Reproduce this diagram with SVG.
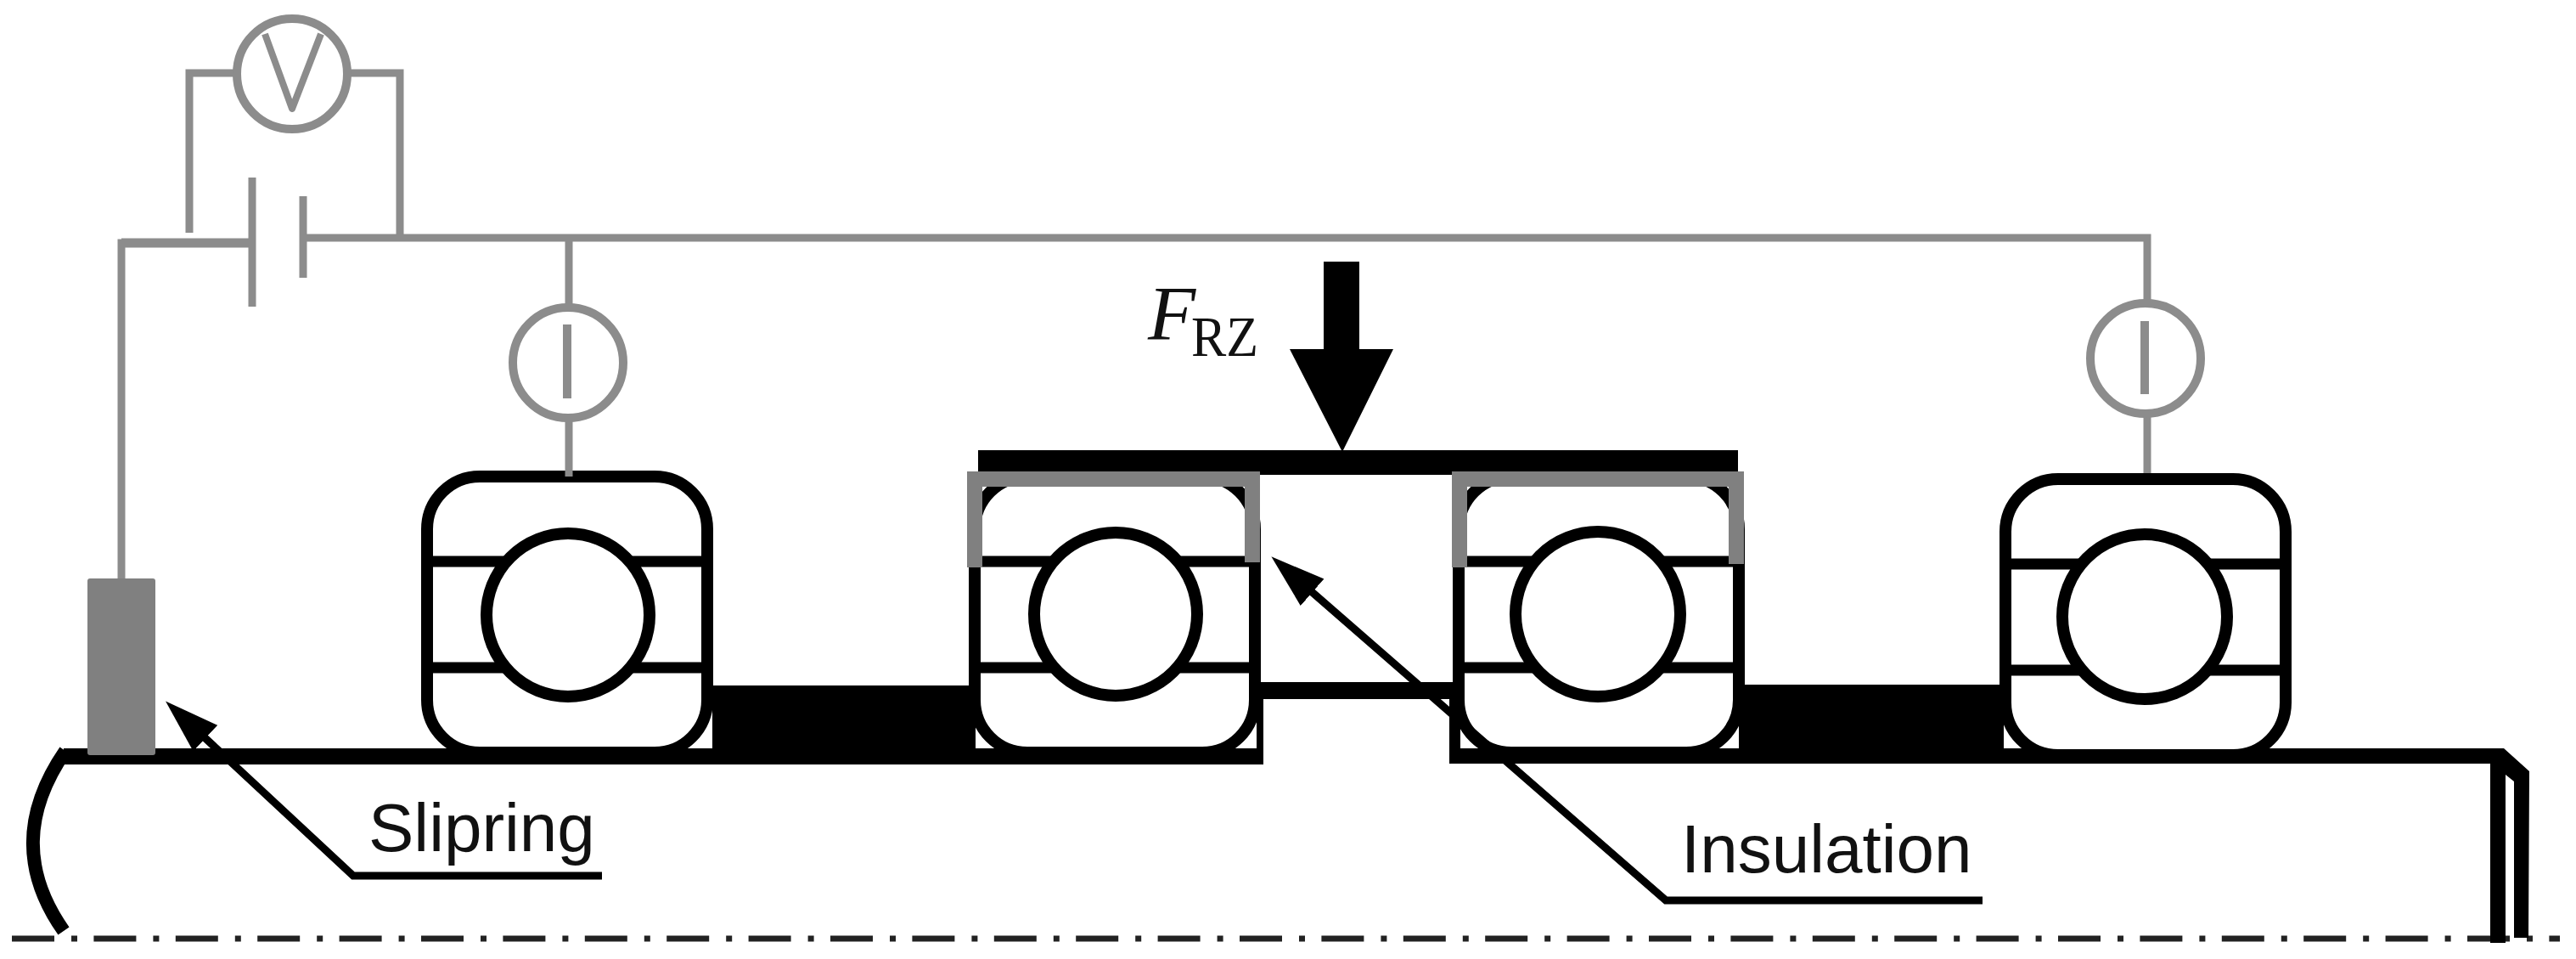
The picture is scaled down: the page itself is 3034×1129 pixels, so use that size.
<svg xmlns="http://www.w3.org/2000/svg" width="3034" height="1129" viewBox="0 0 3034 1129">
<style>
.w{fill:none;stroke:#8c8c8c;stroke-width:9}
.m{fill:#fff;stroke:#8c8c8c;stroke-width:10}
.b{fill:#fff;stroke:#000;stroke-width:14}
.r{fill:none;stroke:#000;stroke-width:13}
.k{fill:#000}
.g{fill:none;stroke:#808080;stroke-width:18}
.l{fill:none;stroke:#000;stroke-width:9}
.t{font-family:"Liberation Sans",Arial,sans-serif;font-size:80px;fill:#111}
.f{font-family:"Liberation Serif","Times New Roman",serif;fill:#111}
</style>
<defs>
<marker id="ah" markerUnits="userSpaceOnUse" markerWidth="70" markerHeight="50" viewBox="0 -25 70 50" refX="34" refY="0" orient="auto-start-reverse"><path d="M0,-21L64,0L0,21Z" fill="#000"/></marker>
<g id="bearing-shape">
<rect class="b" x="-165" y="-163" width="330" height="325" rx="62" ry="62"/>
<path class="r" d="M-165,-63H165M-165,62H165"/>
</g>
</defs>
<line id="centerline" x1="14" y1="1105" x2="3015" y2="1105" stroke="#222" stroke-width="7" stroke-dasharray="50 20 7 19.4"/>
<g id="shaft">
<path class="k" d="M75,881H1488V900H75Z"/>
<path class="k" d="M1478,803H1720V823H1478Z"/>
<path class="k" d="M1480,803H1488V900H1480Z"/>
<path class="k" d="M1707,803H1720V881H2949L2979,908L2978,1104H2961V920L2951,912V1110H2933V899H1707Z"/>
<path d="M77,884C28,955 25,1025 75,1096" fill="none" stroke="#000" stroke-width="16"/>
<rect class="k" x="839" y="807" width="310" height="92"/>
<rect class="k" x="2048" y="806" width="312" height="93"/>
</g>
<g id="bearing-1"><use href="#bearing-shape" x="668" y="724"/><circle class="b" cx="669" cy="724" r="96"/></g>
<g id="bearing-2"><use href="#bearing-shape" x="1313" y="724"/><circle class="b" cx="1314" cy="723" r="96"/></g>
<g id="bearing-3"><use href="#bearing-shape" x="1883" y="724"/><circle class="b" cx="1882" cy="723" r="97"/></g>
<g id="bearing-4"><use href="#bearing-shape" x="2527" y="727"/><circle class="b" cx="2526" cy="726" r="97"/><path d="M2692,660H2697V794H2692Z" class="k"/></g>
<g id="top-plate">
<rect class="k" x="1152" y="530" width="895" height="29"/>
<path class="g" d="M1148,668V564H1475V662"/>
<path class="g" d="M1719,668V564H2045V664"/>
</g>
<g id="connectors">
<path class="w" d="M143,681V286H297" />
<path d="M143,286H297" fill="none" stroke="#8c8c8c" stroke-width="11"/>
<path class="w" d="M223,274V86H276"/>
<path class="w" d="M412,86H471V280"/>
<path class="w" d="M357,280H2529V360"/>
<path class="w" d="M670,280V360M670,494V561"/>
<path class="w" d="M2529,490V557"/>
<path class="l" d="M217,846L416,1031H709" marker-start="url(#ah)"/>
<path class="l" d="M1520,675L1962,1060H2335" marker-start="url(#ah)"/>
</g>
<g id="battery">
<path class="w" d="M297,209V361M357,231V327"/>
</g>
<g id="voltmeter">
<circle class="m" cx="344" cy="87" r="65"/>
<path d="M312,40L344,128L378,40" fill="none" stroke="#8c8c8c" stroke-width="8" stroke-linejoin="round"/>
</g>
<g id="ammeter-1">
<circle class="m" cx="669" cy="427" r="65"/>
<rect x="663" y="382" width="10" height="87" fill="#8c8c8c"/>
</g>
<g id="ammeter-2">
<circle class="m" cx="2527" cy="422" r="65"/>
<rect x="2521" y="378" width="10" height="86" fill="#8c8c8c"/>
</g>
<g id="slipring"><rect x="103" y="681" width="80" height="208" rx="3" fill="#808080"/></g>
<g id="force">
<path class="k" d="M1559,308H1601V411H1641L1581,532L1519,411H1559Z"/>
<text class="f" x="1352" y="400" font-size="92" font-style="italic">F</text>
<text class="f" x="1403" y="419" font-size="68" textLength="79" lengthAdjust="spacingAndGlyphs">RZ</text>
</g>
<g id="labels">
<text class="t" x="434" y="1002">Slipring</text>
<text class="t" x="1980" y="1027">Insulation</text>
</g>
</svg>
